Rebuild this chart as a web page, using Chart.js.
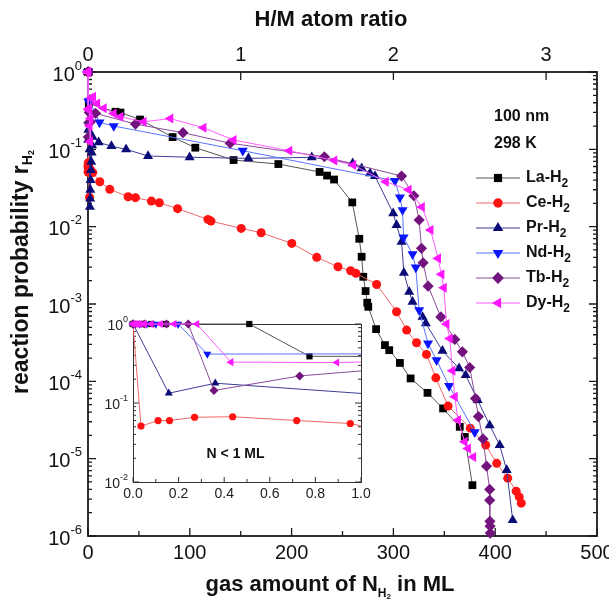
<!DOCTYPE html>
<html><head><meta charset="utf-8">
<script src="https://cdn.jsdelivr.net/npm/chart.js@4.4.0/dist/chart.umd.min.js"></script>
<style>
html,body{margin:0;padding:0;background:#fff;}
#wrap{position:relative;width:609px;height:602px;background:#fff;}
canvas{position:absolute;left:0;top:0;}
</style></head><body>
<div id="wrap"><canvas id="main" width="609" height="602"></canvas><canvas id="inset" width="609" height="602"></canvas></div>
<script>
// ---------------- DATA ----------------
const seriesNames = ['La', 'Ce', 'Pr', 'Nd', 'Tb', 'Dy'];

// [N (ML), reaction probability]
const laPoints = [[0,1],[0.02,1],[0.04,1],[0.08,1],[0.144,1],[0.51,1],[0.774,0.39],[27,0.306],[31.9,0.299],[51.1,0.243],[83.1,0.144],[105.4,0.105],[143,0.0727],[187,0.0645],[227.5,0.051],[234.8,0.0458],[241.7,0.0407],[259.6,0.0206],[266.5,0.00697],[268.8,0.00408],[270.4,0.00225],[272.7,0.00147],[274.3,0.00104],[275.3,0.00092],[283,4.73e-4],[291.7,2.94e-4],[295.9,2.53e-4],[306.4,1.73e-4],[316.9,1.09e-4],[333.5,7.1e-5],[348.8,4.46e-5],[365.2,2.58e-5],[370.1,1.91e-5],[377.6,4.54e-6]];
const cePoints = [[0,1],[0.035,0.051],[0.11,0.06],[0.16,0.06],[0.27,0.066],[0.437,0.067],[0.718,0.06],[0.953,0.055],[1.5,0.024],[2.5,0.054],[4.7,0.05],[11.6,0.0381],[21.4,0.0304],[39.4,0.0244],[46.6,0.0237],[62.3,0.0214],[70.1,0.0204],[88,0.0171],[117.8,0.0124],[120.8,0.0118],[150.5,0.0095],[170.1,0.00834],[200.2,0.00608],[224.7,0.00401],[245.6,0.00303],[258,0.00269],[263.2,0.00249],[283.5,0.00179],[303.1,7.93e-4],[313,4.6e-4],[322.7,3.15e-4],[332.5,2.23e-4],[341.7,1.11e-4],[353.7,4.78e-5],[375.5,2.48e-5],[390.7,1.5e-5],[401.5,8.7e-6],[412.3,5.6e-6],[420.6,3.8e-6],[423.6,3.2e-6],[425.6,2.66e-6]];
const prPoints = [[0,1],[0.157,0.133],[0.361,0.178],[1.6,0.1],[1.9,0.018],[2.1,0.023],[2.3,0.03],[2.6,0.04],[2.9,0.054],[3.2,0.069],[3.6,0.091],[4.0,0.113],[4.5,0.145],[10.5,0.123],[23,0.11],[37.4,0.1],[59,0.082],[99.8,0.079],[157.6,0.0764],[219.8,0.0788],[260,0.066],[268.8,0.0568],[277,0.0489],[281.9,0.0452],[299.8,0.0149],[303.1,0.0105],[308,0.00638],[310.3,0.00253],[315.5,0.00144],[318.8,0.00107],[328.6,6.8e-4],[331.9,5.6e-4],[348.2,2.48e-4],[364.5,1.47e-4],[371,1.2e-4],[382.8,5.7e-5],[394.6,2.7e-5],[404.4,1.5e-5],[411.3,7.1e-6],[417.2,1.6e-6]];
const ndPoints = [[0,1],[0.03,1],[0.06,1],[0.1,1],[0.198,1],[0.326,0.416],[1.5,0.42],[11.3,0.223],[25.3,0.2],[152.1,0.096],[301.5,0.0392],[306.4,0.0239],[309,0.0164],[310,0.00727],[318.8,0.00442],[322,0.00297],[325.3,8.3e-4],[334,3.1e-4],[342.4,1.88e-4],[354.7,8.7e-5],[379.9,2.2e-5]];
const tbPoints = [[0,1],[0.05,1],[0.147,1],[0.242,1],[0.355,0.144],[0.731,0.22],[1.3,0.3],[2.5,0.227],[7.4,0.292],[46.6,0.212],[93.3,0.164],[139.7,0.12],[232.2,0.0802],[308,0.0451],[320.1,0.0251],[325.3,0.0122],[327.6,0.00524],[329.2,0.00341],[334.1,0.0017],[346.6,6.8e-4],[360.3,3.48e-4],[367.8,2.41e-4],[375,1.51e-4],[380.6,6e-5],[383.5,3.5e-5],[388,1.8e-5],[391.5,8e-6],[394.6,4e-6],[394.6,2.9e-6],[394.8,1.55e-6],[395,1.34e-6],[395.2,1.09e-6]];
const dyPoints = [[0,1],[0.01,1],[0.02,1],[0.03,1],[0.05,1],[0.08,1],[0.12,1],[0.18,1],[0.28,1],[0.43,0.329],[0.894,0.325],[1.2,0.34],[1.6,0.2],[2.0,0.125],[2.4,0.25],[3,0.46],[5,0.48],[9,0.39],[15.5,0.34],[25.3,0.29],[31.9,0.264],[54.7,0.227],[80.9,0.25],[113.5,0.19],[143,0.132],[197.8,0.096],[242,0.0716],[260.6,0.0626],[292.6,0.0381],[315,0.03],[328,0.018],[336.5,0.00904],[343.9,0.00389],[347.2,0.00242],[349.5,0.00162],[352.2,5.5e-4],[355.4,3.59e-4],[358,1.37e-4],[360.3,6.3e-5],[363.5,3.15e-5],[370,1.65e-5],[373.3,1.35e-5],[378.4,1.05e-5]];

const xTickValues = [0, 100, 200, 300, 400, 500];
const xMinorValues = [50, 150, 250, 350, 450];
const topTickValues = [0, 1, 2, 3];
const mlPerHM = 150;
const yTickExps = [0, -1, -2, -3, -4, -5, -6];
const insetXTicks = [0, 0.2, 0.4, 0.6, 0.8, 1.0];
const insetXMinor = [0.1, 0.3, 0.5, 0.7, 0.9];
const insetYTickExps = [0, -1, -2];
const sampleInfo = ['100 nm', '298 K'];
const insetNote = 'N < 1 ML';

// ---------------- STYLE ----------------
const FONT = '"Liberation Sans", Arial, Helvetica, sans-serif';
const TXT = '#111';
const styles = [
  {marker:'#000000', line:'#555555', ps:'rect',     r:5.5, rot:0},
  {marker:'#ff1212', line:'#f06868', ps:'circle',   r:4.5, rot:0},
  {marker:'#0b0b78', line:'#3c3c98', ps:'triangle', r:5.8, rot:0},
  {marker:'#0a14ff', line:'#5874ff', ps:'triangle', r:5.8, rot:180},
  {marker:'#73137d', line:'#8c4c98', ps:'rectRot',  r:5.6, rot:0},
  {marker:'#ff18ff', line:'#ff5cff', ps:'triangle', r:5.8, rot:-90}
];
const allPoints = [laPoints, cePoints, prPoints, ndPoints, tbPoints, dyPoints];

function makeDatasets(scale, clip) {
  return allPoints.map((pts, i) => ({
    label: seriesNames[i] + '-H2',
    data: pts.map(p => ({x: p[0], y: p[1]})),
    showLine: true,
    borderColor: styles[i].line,
    borderWidth: 1,
    backgroundColor: styles[i].marker,
    pointBackgroundColor: styles[i].marker,
    pointBorderColor: styles[i].marker,
    pointBorderWidth: 0,
    pointStyle: styles[i].ps,
    pointRadius: styles[i].r * scale,
    pointRotation: styles[i].rot,
    tension: 0,
    order: 6 - i,
    clip: clip
  }));
}

function supText(ctx, base, exp, xRight, yMid, bf, ef, dy) {
  ctx.font = ef; const we = ctx.measureText(exp).width;
  ctx.font = bf; const wb = ctx.measureText(base).width;
  ctx.textAlign = 'left'; ctx.textBaseline = 'middle';
  ctx.fillText(base, xRight - we - wb, yMid);
  ctx.font = ef; ctx.fillText(exp, xRight - we, yMid - dy);
}

// pieces: [text, font, dy]
function drawPieces(ctx, pieces, cx, cy) {
  let total = 0;
  pieces.forEach(p => { ctx.font = p[1]; total += ctx.measureText(p[0]).width; });
  let x = cx - total / 2;
  ctx.textAlign = 'left'; ctx.textBaseline = 'middle';
  pieces.forEach(p => { ctx.font = p[1]; ctx.fillText(p[0], x, cy + p[2]); x += ctx.measureText(p[0]).width; });
}

const mainDecor = {
  id: 'mainDecor',
  beforeDatasetsDraw(chart) {
    const {ctx, chartArea: a, scales} = chart;
    const x = scales.x, xt = scales.xTop, y = scales.y;
    ctx.save();
    ctx.strokeStyle = '#1a1a1a';
    ctx.lineWidth = 1.8;
    ctx.strokeRect(a.left, a.top, a.right - a.left, a.bottom - a.top);
    ctx.lineWidth = 1.3;
    ctx.beginPath();
    xTickValues.forEach(v => { const p = x.getPixelForValue(v); ctx.moveTo(p, a.bottom); ctx.lineTo(p, a.bottom - 8); });
    xMinorValues.forEach(v => { const p = x.getPixelForValue(v); ctx.moveTo(p, a.bottom); ctx.lineTo(p, a.bottom - 5); });
    topTickValues.forEach(v => { const p = xt.getPixelForValue(v); ctx.moveTo(p, a.top); ctx.lineTo(p, a.top + 8); });
    yTickExps.forEach(e => {
      const p = y.getPixelForValue(Math.pow(10, e));
      ctx.moveTo(a.left, p); ctx.lineTo(a.left + 8, p);
      ctx.moveTo(a.right, p); ctx.lineTo(a.right - 8, p);
      if (e > -6) {
        for (let m = 2; m <= 9; m++) {
          const q = y.getPixelForValue(m * Math.pow(10, e - 1));
          ctx.moveTo(a.left, q); ctx.lineTo(a.left + 4, q);
          ctx.moveTo(a.right, q); ctx.lineTo(a.right - 4, q);
        }
      }
    });
    ctx.stroke();

    ctx.fillStyle = TXT;
    ctx.font = '20px ' + FONT;
    ctx.textAlign = 'center'; ctx.textBaseline = 'middle';
    xTickValues.forEach(v => ctx.fillText(String(v), x.getPixelForValue(v), a.bottom + 17));
    topTickValues.forEach(v => ctx.fillText(String(v), xt.getPixelForValue(v), a.top - 17));
    yTickExps.forEach(e => {
      const p = y.getPixelForValue(Math.pow(10, e));
      supText(ctx, '10', String(e), a.left - 6, p + 3, '20px ' + FONT, '13px ' + FONT, 9);
    });

    // titles
    const B22 = 'bold 22px ' + FONT;
    ctx.font = B22; ctx.textAlign = 'center';
    ctx.fillText('H/M atom ratio', 331, 20);
    drawPieces(ctx, [['gas amount of N', B22, 0], ['H', 'bold 12px ' + FONT, 9], ['2', 'bold 8px ' + FONT, 12], [' in ML', B22, 0]], 330, 585);
    ctx.save();
    ctx.translate(22, 272);
    ctx.rotate(-Math.PI / 2);
    const B23 = 'bold 23px ' + FONT;
    drawPieces(ctx, [['reaction probability r', B23, 0], ['H', 'bold 14px ' + FONT, 6], ['2', 'bold 9px ' + FONT, 10]], 0, 0);
    ctx.restore();
    ctx.restore();
  },
  afterDraw(chart) {
    const ctx = chart.ctx;
    ctx.save();
    ctx.fillStyle = TXT;
    ctx.font = 'bold 16px ' + FONT;
    ctx.textAlign = 'left'; ctx.textBaseline = 'middle';
    ctx.fillText(sampleInfo[0], 494, 117);
    ctx.fillText(sampleInfo[1], 494, 144);
    const ly = [178, 203, 228, 253, 278, 303];
    seriesNames.forEach((n, i) => {
      const yy = ly[i];
      ctx.strokeStyle = styles[i].line; ctx.lineWidth = 1;
      ctx.beginPath(); ctx.moveTo(476, yy); ctx.lineTo(520, yy); ctx.stroke();
      ctx.fillStyle = styles[i].marker;
      Chart.helpers.drawPoint(ctx, {pointStyle: styles[i].ps, rotation: styles[i].rot, radius: styles[i].r * 1.05, borderWidth: 0}, 498, yy);
      ctx.fillStyle = TXT;
      ctx.font = 'bold 16px ' + FONT;
      ctx.fillText(n + '-H', 526, yy);
      const w = ctx.measureText(n + '-H').width;
      ctx.font = 'bold 12px ' + FONT;
      ctx.fillText('2', 526 + w, yy + 6);
    });
    ctx.restore();
  }
};

new Chart(document.getElementById('main'), {
  type: 'scatter',
  data: {datasets: makeDatasets(1, false)},
  options: {
    responsive: false, animation: false, devicePixelRatio: 1, events: [],
    layout: {padding: {left: 88, top: 72, right: 12, bottom: 66}},
    scales: {
      x: {type: 'linear', min: 0, max: 500, display: false},
      xTop: {type: 'linear', axis: 'x', position: 'top', min: 0, max: 500 / mlPerHM, display: false},
      y: {type: 'logarithmic', min: 1e-6, max: 1, display: false}
    },
    plugins: {legend: {display: false}, tooltip: {enabled: false}}
  },
  plugins: [mainDecor]
});

const insetDecor = {
  id: 'insetDecor',
  beforeDraw(chart) {
    const {ctx, chartArea: a} = chart;
    ctx.save(); ctx.fillStyle = '#fff';
    ctx.fillRect(a.left, a.top, a.right - a.left, a.bottom - a.top);
    ctx.restore();
  },
  beforeDatasetsDraw(chart) {
    const {ctx, chartArea: a, scales: {x, y}} = chart;
    ctx.save();
    ctx.strokeStyle = '#333'; ctx.lineWidth = 1;
    ctx.strokeRect(a.left + 0.5, a.top + 0.5, a.right - a.left, a.bottom - a.top);
    ctx.beginPath();
    insetXTicks.forEach(v => { const p = x.getPixelForValue(v); ctx.moveTo(p, a.bottom); ctx.lineTo(p, a.bottom - 5); });
    insetXMinor.forEach(v => { const p = x.getPixelForValue(v); ctx.moveTo(p, a.bottom); ctx.lineTo(p, a.bottom - 3); });
    insetYTickExps.forEach(e => {
      const p = y.getPixelForValue(Math.pow(10, e));
      ctx.moveTo(a.left, p); ctx.lineTo(a.left + 6, p);
      ctx.moveTo(a.right, p); ctx.lineTo(a.right - 6, p);
      if (e > -2) {
        for (let m = 2; m <= 9; m++) {
          const q = y.getPixelForValue(m * Math.pow(10, e - 1));
          ctx.moveTo(a.left, q); ctx.lineTo(a.left + 3, q);
          ctx.moveTo(a.right, q); ctx.lineTo(a.right - 3, q);
        }
      }
    });
    ctx.stroke();
    ctx.fillStyle = '#222';
    ctx.font = '14px ' + FONT; ctx.textAlign = 'center'; ctx.textBaseline = 'middle';
    insetXTicks.forEach(v => ctx.fillText(v.toFixed(1), x.getPixelForValue(v), a.bottom + 12));
    insetYTickExps.forEach(e => {
      supText(ctx, '10', String(e), a.left - 5, y.getPixelForValue(Math.pow(10, e)) + 2, '14px ' + FONT, '9px ' + FONT, 6);
    });
    ctx.fillStyle = TXT;
    ctx.font = 'bold 14px ' + FONT; ctx.textAlign = 'center';
    ctx.fillText(insetNote, x.getPixelForValue(0.45), y.getPixelForValue(0.0225));
    ctx.restore();
  }
};

new Chart(document.getElementById('inset'), {
  type: 'scatter',
  data: {datasets: makeDatasets(0.8, {left: 6, top: 7, right: 0, bottom: 0})},
  options: {
    responsive: false, animation: false, devicePixelRatio: 1, events: [],
    layout: {padding: {left: 133, top: 324, right: 248, bottom: 120}},
    scales: {
      x: {type: 'linear', min: 0, max: 1, display: false},
      y: {type: 'logarithmic', min: 0.01, max: 1, display: false}
    },
    plugins: {legend: {display: false}, tooltip: {enabled: false}}
  },
  plugins: [insetDecor]
});
</script>
</body></html>
